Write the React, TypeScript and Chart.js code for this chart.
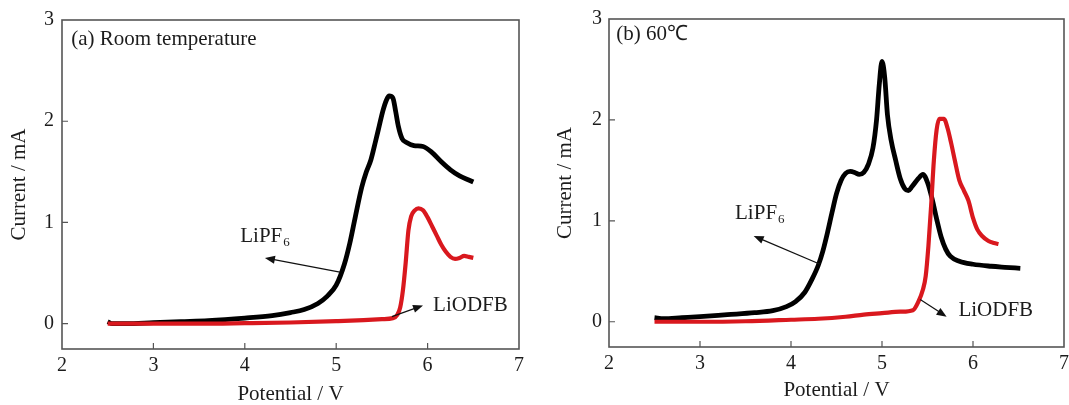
import React, { useEffect, useRef } from "react";
import { Chart, registerables } from "chart.js";

Chart.register(...registerables);

const xTickValues = [2, 3, 4, 5, 6, 7];
const yTickValues = [0, 1, 2, 3];

// Panel (a) Room temperature
const aLiPF6V = [2.5, 2.55, 2.7, 3.0, 3.3, 3.6, 4.0, 4.3, 4.5, 4.65, 4.8, 4.9, 5.0, 5.09, 5.15, 5.21, 5.28, 5.33, 5.38, 5.43, 5.47, 5.51, 5.55, 5.58, 5.62, 5.65, 5.68, 5.72, 5.77, 5.85, 5.95, 6.05, 6.15, 6.25, 6.35, 6.45, 6.5];
const aLiPF6I = [0.02, 0.0, 0.0, 0.01, 0.02, 0.03, 0.055, 0.08, 0.11, 0.14, 0.2, 0.27, 0.38, 0.59, 0.8, 1.06, 1.35, 1.5, 1.62, 1.8, 1.95, 2.1, 2.21, 2.25, 2.23, 2.1, 1.95, 1.83, 1.79, 1.76, 1.75, 1.69, 1.6, 1.52, 1.46, 1.42, 1.4];
const aLiODFBV = [2.5, 3.0, 3.5, 4.0, 4.5, 5.0, 5.3, 5.5, 5.62, 5.67, 5.7, 5.73, 5.76, 5.79, 5.82, 5.86, 5.9, 5.95, 6.0, 6.05, 6.1, 6.15, 6.2, 6.25, 6.3, 6.35, 6.4, 6.45, 6.5];
const aLiODFBI = [0.0, 0.0, 0.0, 0.005, 0.012, 0.025, 0.035, 0.045, 0.055, 0.09, 0.16, 0.33, 0.6, 0.92, 1.06, 1.12, 1.14, 1.12, 1.05, 0.96, 0.87, 0.78, 0.71, 0.66, 0.64, 0.65, 0.67, 0.66, 0.65];

// Panel (b) 60 ℃
const bLiPF6V = [2.5, 2.6, 2.8, 3.0, 3.3, 3.6, 3.8, 3.95, 4.05, 4.15, 4.23, 4.3, 4.35, 4.4, 4.45, 4.5, 4.55, 4.6, 4.65, 4.7, 4.75, 4.8, 4.85, 4.9, 4.94, 4.97, 5.0, 5.03, 5.06, 5.1, 5.15, 5.2, 5.25, 5.29, 5.33, 5.4, 5.45, 5.5, 5.55, 5.6, 5.65, 5.7, 5.75, 5.85, 6.0, 6.2, 6.35, 6.52];
const bLiPF6I = [0.04, 0.03, 0.04, 0.05, 0.07, 0.09, 0.11, 0.15, 0.2, 0.29, 0.42, 0.56, 0.7, 0.88, 1.08, 1.27, 1.4, 1.47, 1.49, 1.48, 1.46, 1.48, 1.56, 1.72, 2.0, 2.35, 2.58, 2.42, 2.05, 1.8, 1.6, 1.42, 1.32, 1.3, 1.34, 1.42, 1.46, 1.38, 1.22, 1.02, 0.84, 0.72, 0.65, 0.6, 0.57, 0.55, 0.54, 0.53];
const bLiODFBV = [2.5, 3.0, 3.5, 4.0, 4.3, 4.6, 4.8, 5.0, 5.2, 5.34, 5.4, 5.45, 5.48, 5.51, 5.54, 5.57, 5.6, 5.63, 5.68, 5.72, 5.76, 5.8, 5.85, 5.9, 5.95, 6.0, 6.05, 6.1, 6.17, 6.23, 6.28];
const bLiODFBI = [0.0, 0.0, 0.005, 0.02, 0.03, 0.05, 0.07, 0.085, 0.1, 0.115, 0.2, 0.32, 0.45, 0.75, 1.15, 1.6, 1.9, 2.01, 2.01, 1.92, 1.77, 1.6, 1.4, 1.3, 1.2, 1.03, 0.91, 0.85, 0.8, 0.78, 0.77];

const FONT = '"Liberation Serif", "Times New Roman", Times, serif';
const TEXT = "#1c1c1c";
const RED = "#d9181e";
const FRAME = "#555";

type Pt = [number, number];
type PanelCfg = {
  label: string;
  labelAt: Pt;
  lipfText: Pt;
  lipfTail: Pt;
  lipfHead: Pt;
  odfbText: Pt;
  odfbTail: Pt;
  odfbHead: Pt;
};

const panelA: PanelCfg = {
  label: "(a) Room temperature",
  labelAt: [2.1, 2.81],
  lipfText: [3.95, 0.86],
  lipfTail: [5.04, 0.51],
  lipfHead: [4.22, 0.65],
  odfbText: [6.06, 0.18],
  odfbTail: [5.61, 0.07],
  odfbHead: [5.95, 0.18],
};

const panelB: PanelCfg = {
  label: "(b) 60\u2103",
  labelAt: [2.08, 2.85],
  lipfText: [3.385, 1.075],
  lipfTail: [4.32, 0.57],
  lipfHead: [3.59, 0.85],
  odfbText: [5.84, 0.11],
  odfbTail: [5.42, 0.22],
  odfbHead: [5.71, 0.05],
};

const zip = (xs: number[], ys: number[]) => xs.map((x, i) => ({ x, y: ys[i] }));

function drawArrow(ctx: CanvasRenderingContext2D, x1: number, y1: number, x2: number, y2: number) {
  const ang = Math.atan2(y2 - y1, x2 - x1);
  const len = 10;
  const hw = 4;
  ctx.save();
  ctx.strokeStyle = "#111";
  ctx.fillStyle = "#111";
  ctx.lineWidth = 1.2;
  ctx.beginPath();
  ctx.moveTo(x1, y1);
  ctx.lineTo(x2 - Math.cos(ang) * len * 0.8, y2 - Math.sin(ang) * len * 0.8);
  ctx.stroke();
  ctx.beginPath();
  ctx.moveTo(x2, y2);
  ctx.lineTo(x2 - Math.cos(ang) * len - Math.sin(ang) * hw, y2 - Math.sin(ang) * len + Math.cos(ang) * hw);
  ctx.lineTo(x2 - Math.cos(ang) * len + Math.sin(ang) * hw, y2 - Math.sin(ang) * len - Math.cos(ang) * hw);
  ctx.closePath();
  ctx.fill();
  ctx.restore();
}

const decorPlugin = {
  id: "decor",
  afterDatasetsDraw(chart: any, _args: any, opts: any) {
    const cfg: PanelCfg = opts.cfg;
    if (!cfg) return;
    const { ctx, chartArea: a, scales } = chart;
    const xs = scales.x;
    const ys = scales.y;
    const px = (p: Pt): Pt => [xs.getPixelForValue(p[0]), ys.getPixelForValue(p[1])];
    ctx.save();
    // frame
    ctx.strokeStyle = FRAME;
    ctx.lineWidth = 1.6;
    ctx.strokeRect(a.left, a.top, a.right - a.left, a.bottom - a.top);
    // inward ticks
    ctx.lineWidth = 1.2;
    ctx.beginPath();
    yTickValues.forEach((v) => {
      const y = ys.getPixelForValue(v);
      if (y > a.top + 2) {
        ctx.moveTo(a.left, y);
        ctx.lineTo(a.left + 6, y);
      }
    });
    xTickValues.forEach((v) => {
      const x = xs.getPixelForValue(v);
      if (x > a.left + 2 && x < a.right - 2) {
        ctx.moveTo(x, a.bottom);
        ctx.lineTo(x, a.bottom - 6);
      }
    });
    ctx.stroke();

    // texts
    ctx.fillStyle = TEXT;
    ctx.textBaseline = "middle";
    ctx.textAlign = "left";
    ctx.font = `21px ${FONT}`;
    const [lx, ly] = px(cfg.labelAt);
    ctx.fillText(cfg.label, lx, ly);

    ctx.font = `21px ${FONT}`;
    const [tx, ty] = px(cfg.lipfText);
    ctx.fillText("LiPF", tx, ty);
    const w = ctx.measureText("LiPF").width;
    ctx.font = `13px ${FONT}`;
    ctx.fillText("6", tx + w + 1, ty + 6);

    ctx.font = `21px ${FONT}`;
    const [ox, oy] = px(cfg.odfbText);
    ctx.fillText("LiODFB", ox, oy);

    const t1 = px(cfg.lipfTail), h1 = px(cfg.lipfHead);
    drawArrow(ctx, t1[0], t1[1], h1[0], h1[1]);
    const t2 = px(cfg.odfbTail), h2 = px(cfg.odfbHead);
    drawArrow(ctx, t2[0], t2[1], h2[0], h2[1]);
    ctx.restore();
  },
};

type Geo = { padTop: number; padRight: number; yW: number; xH: number; yTitlePad: number; xTitlePad: number; yTickPad: number };

function makeChart(canvas: HTMLCanvasElement, cfg: PanelCfg, geo: Geo, blackV: number[], blackI: number[], redV: number[], redI: number[]) {
  return new Chart(canvas, {
    type: "line",
    data: {
      datasets: [
        {
          label: "LiODFB",
          data: zip(redV, redI),
          borderColor: RED,
          borderWidth: 4.2,
          pointRadius: 0,
          cubicInterpolationMode: "monotone",
          fill: false,
          order: 0,
        },
        {
          label: "LiPF6",
          data: zip(blackV, blackI),
          borderColor: "#000",
          borderWidth: 4.8,
          pointRadius: 0,
          cubicInterpolationMode: "monotone",
          fill: false,
          order: 1,
        },
      ],
    },
    options: {
      animation: false,
      responsive: false,
      events: [],
      layout: { padding: { top: geo.padTop, right: geo.padRight, left: 0, bottom: 0 } },
      plugins: {
        legend: { display: false },
        tooltip: { enabled: false },
        decor: { cfg },
      } as any,
      scales: {
        x: {
          type: "linear",
          min: 2,
          max: 7,
          afterBuildTicks: (s: any) => {
            s.ticks = xTickValues.map((v) => ({ value: v }));
          },
          afterFit: (s: any) => {
            s.height = geo.xH;
            s.paddingLeft = 0;
            s.paddingRight = 0;
          },
          grid: { display: false, drawTicks: false },
          border: { display: false },
          ticks: { font: { family: FONT, size: 20 }, color: TEXT, padding: 5, maxRotation: 0, autoSkip: false },
          title: {
            display: true,
            text: "Potential / V",
            color: TEXT,
            font: { family: FONT, size: 21, lineHeight: 1 },
            padding: { top: 0, bottom: geo.xTitlePad },
          },
        },
        y: {
          type: "linear",
          min: -0.25,
          max: 3,
          afterBuildTicks: (s: any) => {
            s.ticks = yTickValues.map((v) => ({ value: v }));
          },
          afterFit: (s: any) => {
            s.width = geo.yW;
            s.paddingTop = 0;
            s.paddingBottom = 0;
          },
          grid: { display: false, drawTicks: false },
          border: { display: false },
          ticks: { font: { family: FONT, size: 20 }, color: TEXT, padding: geo.yTickPad, autoSkip: false },
          title: {
            display: true,
            text: "Current / mA",
            color: TEXT,
            font: { family: FONT, size: 21, lineHeight: 1 },
            padding: { top: geo.yTitlePad, bottom: 0 },
          },
        },
      },
    },
    plugins: [decorPlugin],
  } as any);
}

export default function App() {
  const refA = useRef<HTMLCanvasElement>(null);
  const refB = useRef<HTMLCanvasElement>(null);

  useEffect(() => {
    const ca = makeChart(
      refA.current!,
      panelA,
      { padTop: 20, padRight: 21, yW: 62, xH: 56, yTitlePad: 9, xTitlePad: 0, yTickPad: 8 },
      aLiPF6V, aLiPF6I, aLiODFBV, aLiODFBI
    );
    const cb = makeChart(
      refB.current!,
      panelB,
      { padTop: 19, padRight: 5, yW: 69, xH: 58, yTitlePad: 15, xTitlePad: 4, yTickPad: 7 },
      bLiPF6V, bLiPF6I, bLiODFBV, bLiODFBI
    );
    return () => {
      ca.destroy();
      cb.destroy();
    };
  }, []);

  return (
    <div style={{ position: "fixed", left: 0, top: 0, width: 1069, height: 405, background: "#fff" }}>
      <canvas ref={refA} width={540} height={405} style={{ position: "absolute", left: 0, top: 0, width: 540, height: 405 }} />
      <canvas ref={refB} width={529} height={405} style={{ position: "absolute", left: 540, top: 0, width: 529, height: 405 }} />
    </div>
  );
}
